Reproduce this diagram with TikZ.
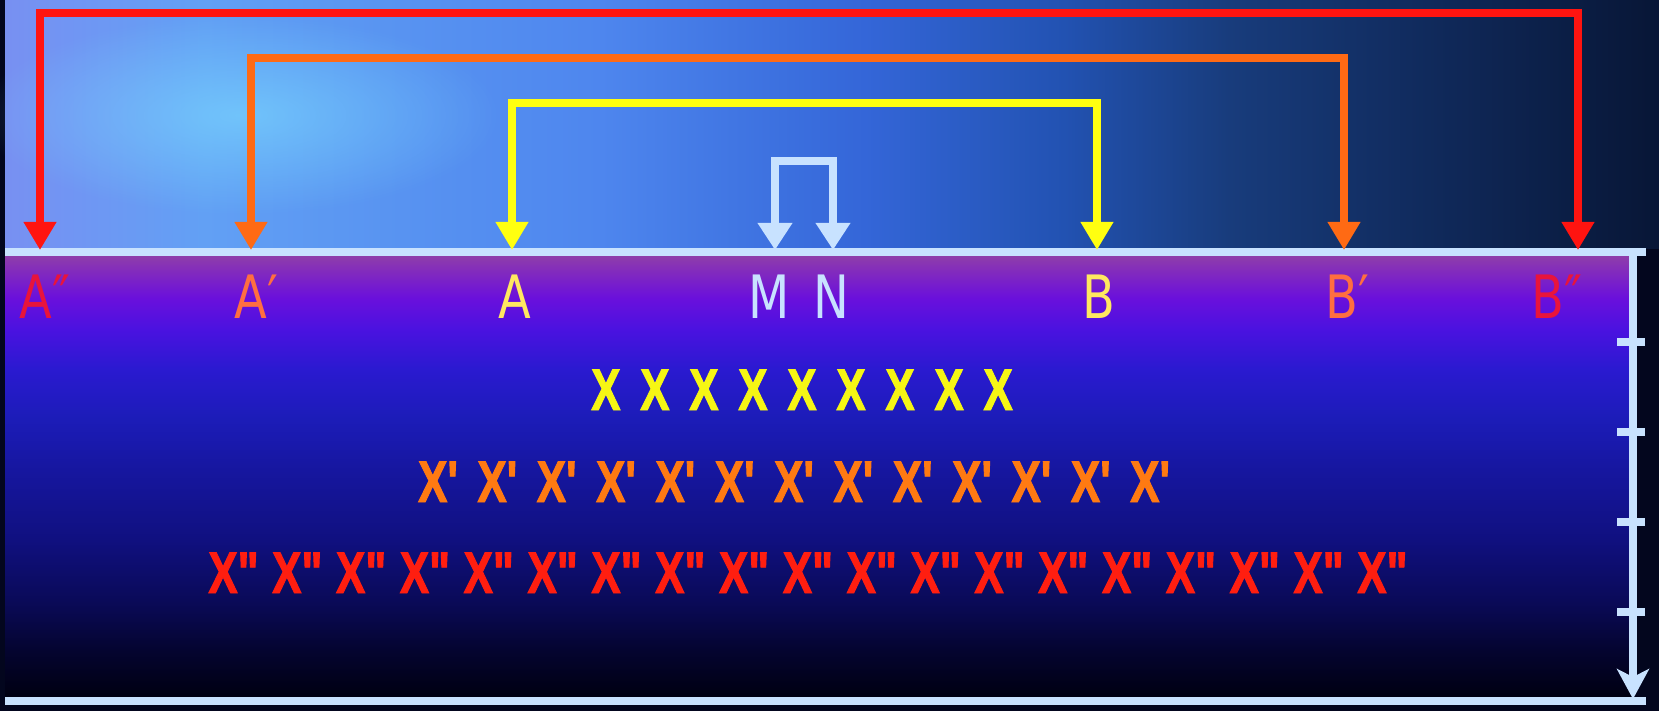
\documentclass[tikz,border=0pt]{standalone}
\usepackage{fontspec}
\usetikzlibrary{arrows.meta,fadings}
\setmainfont{DejaVu Sans}
\newfontfamily\lblfont[FakeStretch=0.8]{DejaVu Sans}
\newfontfamily\xfont[Ligatures=TeXOff,FakeStretch=0.75,BoldFeatures={FakeBold=1.6}]{Liberation Sans}

% palette
\definecolor{bgdark}{HTML}{03061E}
\definecolor{railc}{HTML}{C8E2FF}
\definecolor{rd}{HTML}{FF1410}
\definecolor{og}{HTML}{FF6A14}
\definecolor{yl}{HTML}{FFFF10}
\definecolor{lbR}{HTML}{E8143C}
\definecolor{lbO}{HTML}{FF6E40}
\definecolor{lbY}{HTML}{FFE860}
\definecolor{xR}{HTML}{FF1E10}
\definecolor{xO}{HTML}{FF7A12}
\definecolor{xY}{HTML}{F6F614}
\definecolor{glowc}{HTML}{7AD8FF}

% sky band above the rail (TikZ maps 25bp..75bp onto the path)
\definecolor{s0}{HTML}{7890F2}
\definecolor{s1}{HTML}{62A0F4}
\definecolor{s2}{HTML}{4E86EE}
\definecolor{s3}{HTML}{3466D8}
\definecolor{s4}{HTML}{2252B2}
\definecolor{s5}{HTML}{183C7C}
\definecolor{s6}{HTML}{102A5C}
\definecolor{s7}{HTML}{081636}
\pgfdeclarehorizontalshading{skyband}{100bp}{color(0bp)=(s0); color(25bp)=(s0); color(31bp)=(s1); color(43bp)=(s2); color(51bp)=(s3); color(57bp)=(s4); color(62bp)=(s5); color(68bp)=(s6); color(75bp)=(s7); color(100bp)=(s7)}

% floor band below the rail
\definecolor{f0}{HTML}{000010}
\definecolor{f1}{HTML}{040430}
\definecolor{f2}{HTML}{0A0A58}
\definecolor{f3}{HTML}{101080}
\definecolor{f4}{HTML}{16169E}
\definecolor{f5}{HTML}{1C1CB8}
\definecolor{f6}{HTML}{2A1AD0}
\definecolor{f7}{HTML}{4A12E0}
\definecolor{f8}{HTML}{6A10DC}
\definecolor{f9}{HTML}{8028C0}
\definecolor{f10}{HTML}{9040A8}
\pgfdeclareverticalshading{floorband}{100bp}{color(0bp)=(f0); color(25bp)=(f0); color(30.5bp)=(f1); color(36bp)=(f2); color(43bp)=(f3); color(50.5bp)=(f4); color(56.5bp)=(f5); color(62bp)=(f6); color(66.5bp)=(f7); color(70bp)=(f8); color(72.8bp)=(f9); color(75bp)=(f10); color(100bp)=(f10)}

\tikzfading[name=glowfade, inner color=transparent!35, outer color=transparent!100]

\tikzset{
  lbl/.style={font=\lblfont\fontsize{17}{20}\selectfont, inner sep=0pt, anchor=base},
  xrow/.style={font=\xfont\bfseries\fontsize{16.7}{20}\selectfont, inner sep=0pt, anchor=base},
  link/.style={draw=#1, line width=0.075cm, line join=miter,
    arrows={Triangle[width=0.31cm,length=0.28cm]-Triangle[width=0.31cm,length=0.28cm]}},
  railline/.style={draw=railc, line width=0.08cm}
}

\begin{document}
\begin{tikzpicture}[x=0.01cm,y=-0.01cm]
\useasboundingbox (0,0) rectangle (1659,711);
\fill[bgdark] (0,0) rectangle (1659,711);

% backgrounds
\shade[shading=skyband] (5,0) rectangle (1659,248);
\fill[glowc, path fading=glowfade] (240,115) ellipse [x radius=2.6cm, y radius=1cm];
\shade[shading=floorband] (5,254) rectangle (1633,699);

% rails, axis and ticks
\draw[railline] (5,252) -- (1646,252);
\draw[railline] (5,701) -- (1646,701);
\draw[railline, -{Stealth[width=0.32cm,length=0.3cm,inset=0.08cm]}] (1633,252) -- (1633,699);
\foreach \ty in {342,432,522,612}
  \draw[railline, line width=0.075cm] (1617,\ty) -- (1645,\ty);

% point labels
\node[lbl, text=lbR] (lA2) at (36,318) {A\rlap{″}};
\node[lbl, text=lbO] (lA1) at (251,318) {A\rlap{′}};
\node[lbl, text=lbY] (lA)  at (515,318) {A};
\node[lbl, text=railc] (lM) at (769,318) {M};
\node[lbl, text=railc] (lN) at (831,318) {N};
\node[lbl, text=lbY] (lB)  at (1099,318) {B};
\node[lbl, text=lbO] (lB1) at (1342,318) {B\rlap{′}};
\node[lbl, text=lbR] (lB2) at (1548,318) {B\rlap{″}};

% arrow tips on the rail and heights of the brackets
\coordinate (tA2) at (40,250);
\coordinate (tA1) at (251,250);
\coordinate (tA)  at (512,250);
\coordinate (tM)  at (775,250);
\coordinate (tN)  at (833,250);
\coordinate (tB)  at (1097,250);
\coordinate (tB1) at (1344,250);
\coordinate (tB2) at (1578,250);
\coordinate (hR) at (0,13);
\coordinate (hO) at (0,58);
\coordinate (hY) at (0,103);
\coordinate (hM) at (0,161);

% brackets
\draw[link=rd] (tA2) -- (tA2 |- hR) -| (tB2);
\draw[link=og] (tA1) -- (tA1 |- hO) -| (tB1);
\draw[link=yl] (tA) -- (tA |- hY) -| (tB);
\draw[link=railc, line width=0.085cm,
  arrows={Triangle[width=0.33cm,length=0.27cm]-Triangle[width=0.33cm,length=0.27cm]}]
  (tM) -- (tM |- hM) -| (tN);

% rows of X
\node[xrow, text=xY] (rowY) at (802,410)
  {\foreach \i in {1,...,9}{\makebox[0.49cm]{X}}};
\node[xrow, text=xO] (rowO) at (794,502)
  {\foreach \i in {1,...,13}{\makebox[0.593cm]{X\symbol{"27}}}};
\node[xrow, text=xR] (rowR) at (808,593)
  {\foreach \i in {1,...,19}{\makebox[0.638cm]{X\symbol{"22}}}};
\end{tikzpicture}
\end{document}
